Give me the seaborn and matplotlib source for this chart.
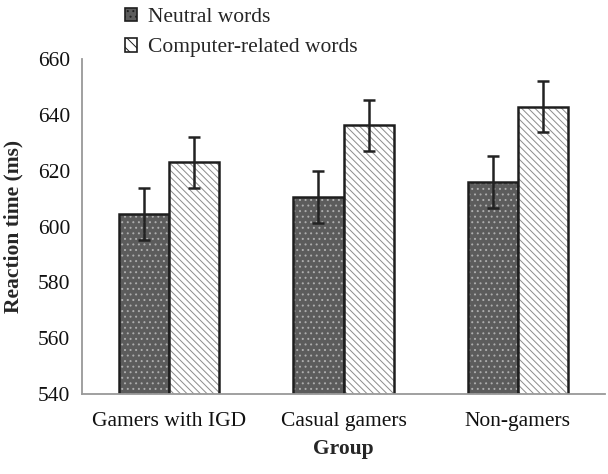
import matplotlib
matplotlib.use("Agg")
import matplotlib.pyplot as plt
import seaborn as sns
import pandas as pd
from matplotlib.patches import Patch

groups = ["Gamers with IGD", "Casual gamers", "Non-gamers"]
conditions = ["Neutral words", "Computer-related words"]
neutral = [604.5, 610.7, 616.0]
computer = [623.0, 636.3, 643.0]
neutral_err = [9.4, 9.4, 9.4]
computer_err = [9.2, 9.2, 9.1]
yticks = [540, 560, 580, 600, 620, 640, 660]

df = pd.DataFrame({
    "Group": groups * 2,
    "Condition": [conditions[0]] * 3 + [conditions[1]] * 3,
    "RT": neutral + computer,
    "Err": neutral_err + computer_err,
})

sns.set_style("white")
plt.rcParams["font.family"] = ["Liberation Serif", "DejaVu Serif"]
plt.rcParams["hatch.linewidth"] = 0.7

FS = 15.5
fig = plt.figure(figsize=(6.08, 4.74), dpi=100)
ax = fig.add_axes([0.135, 0.169, 0.86, 0.706])

dark_fill = "#5c5c5c"
sns.barplot(data=df, x="Group", y="RT", hue="Condition", order=groups,
            hue_order=conditions, palette=[dark_fill, "white"], width=0.575,
            gap=0, errorbar=None, edgecolor="#1e1e1e", linewidth=1.8,
            legend=False, ax=ax)

for i, p in enumerate(ax.patches[:6]):
    if i < 3:
        p.set_hatch("...")
        p._hatch_color = (0.68, 0.68, 0.68, 1.0)
    else:
        p.set_hatch("\\\\\\\\\\")
        p._hatch_color = (0.55, 0.55, 0.55, 1.0)

xs = [p.get_x() + p.get_width() / 2 for p in ax.patches[:6]]
ax.errorbar(xs, df["RT"], yerr=df["Err"], fmt="none", ecolor="#222222",
            elinewidth=1.8, capsize=4.5, capthick=1.8, zorder=5)

ax.set_ylim(540, 660)
ax.set_yticks(yticks)
ax.set_xlim(-0.5, 2.5)
ax.set_xticks([-0.5, 2.5], minor=True)
for s in ["top", "right"]:
    ax.spines[s].set_visible(False)
for s in ["left", "bottom"]:
    ax.spines[s].set_color("#999999")
    ax.spines[s].set_linewidth(1.3)
ax.tick_params(axis="both", which="both", direction="out", color="#999999",
               length=5, width=1.3, labelsize=FS, labelcolor="#111111")
ax.tick_params(axis="x", pad=8)
ax.set_xlabel("Group", fontsize=FS, fontweight="bold", labelpad=6)
ax.set_ylabel("Reaction time (ms)", fontsize=FS, fontweight="bold", labelpad=10)

handles = [
    Patch(facecolor=dark_fill, edgecolor="#1e1e1e", linewidth=1.2, hatch="..."),
    Patch(facecolor="white", edgecolor="#1e1e1e", linewidth=1.2, hatch="\\\\\\"),
]
leg = fig.legend(handles, conditions, loc="upper left",
                 bbox_to_anchor=(0.205, 0.983), frameon=False, fontsize=FS,
                 handlelength=0.58, handleheight=0.58, handletextpad=0.5,
                 labelspacing=0.5, borderpad=0.0, borderaxespad=0.0)

fig.savefig("out.png", dpi=100)
